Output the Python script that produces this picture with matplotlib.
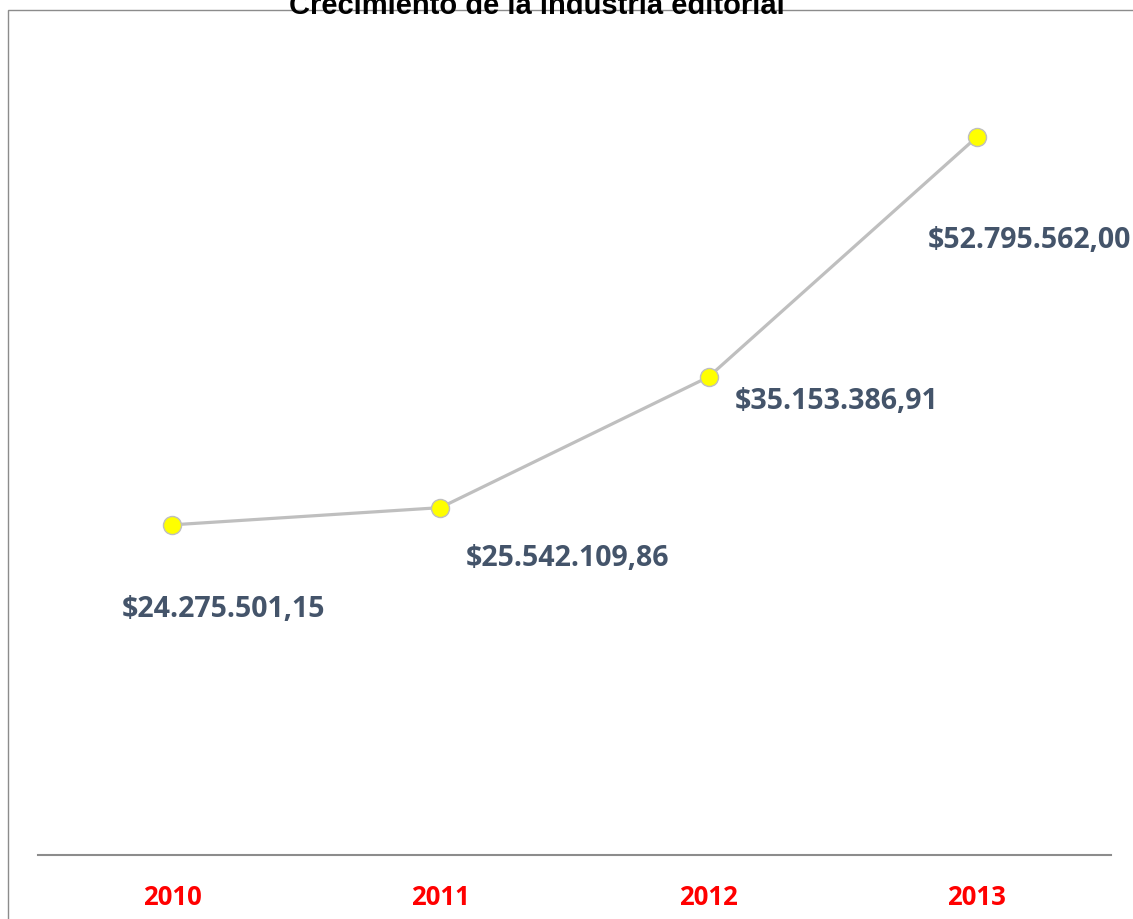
import matplotlib.pyplot as plt
from matplotlib.patches import Rectangle

years = ['2010', '2011', '2012', '2013']
values = [24275501.15, 25542109.86, 35153386.91, 52795562.00]
labels = ['$24.275.501,15', '$25.542.109,86', '$35.153.386,91', '$52.795.562,00']
# label offsets in pixels from each point
offsets = [(51, -84), (127, -50), (128, -24), (53, -103)]

fig = plt.figure(figsize=(11.33, 9.2), dpi=100)
W, H = 1133, 920

# outer chart frame (cut off at the right and bottom)
fig.patches.append(Rectangle((8 / W, -0.1), 1.2, (H - 11) / H + 0.1, transform=fig.transFigure,
                             fill=False, edgecolor='#8c8c8c', linewidth=1))

fig.text(537 / W, (H - 14) / H, 'Crecimiento de la industria editorial', ha='center', va='baseline',
         fontsize=21, fontweight='bold', family='Liberation Sans')

ax = fig.add_axes([38 / W, 64 / H, (1111 - 38) / W, (856 - 40) / H])
x = list(range(len(years)))
ax.plot(x, values, color='#bfbfbf', linewidth=2.3, marker='o', markersize=13,
        markerfacecolor='#ffff00', markeredgecolor='#bfbfbf', markeredgewidth=1, zorder=3)

for xi, v, lab, off in zip(x, values, labels, offsets):
    ax.annotate(lab, (xi, v), xytext=off, textcoords='offset pixels', ha='center', va='center',
                fontsize=20.5, fontweight='bold', color='#44546a', family='Open Sans')

ax.set_xlim(-0.5, 3.5)
ax.set_ylim(0, 60000000)
ax.set_yticks([])
ax.set_xticks(x)
ax.set_xticklabels(years, fontsize=18.5, fontweight='bold', color='#ff0000', family='Open Sans')
ax.tick_params(axis='x', length=0, pad=20)
for s in ['top', 'left', 'right']:
    ax.spines[s].set_visible(False)
ax.spines['bottom'].set_color('#8c8c8c')
ax.spines['bottom'].set_linewidth(1.5)
ax.patch.set_alpha(0)

fig.savefig('out.png', dpi=100)
